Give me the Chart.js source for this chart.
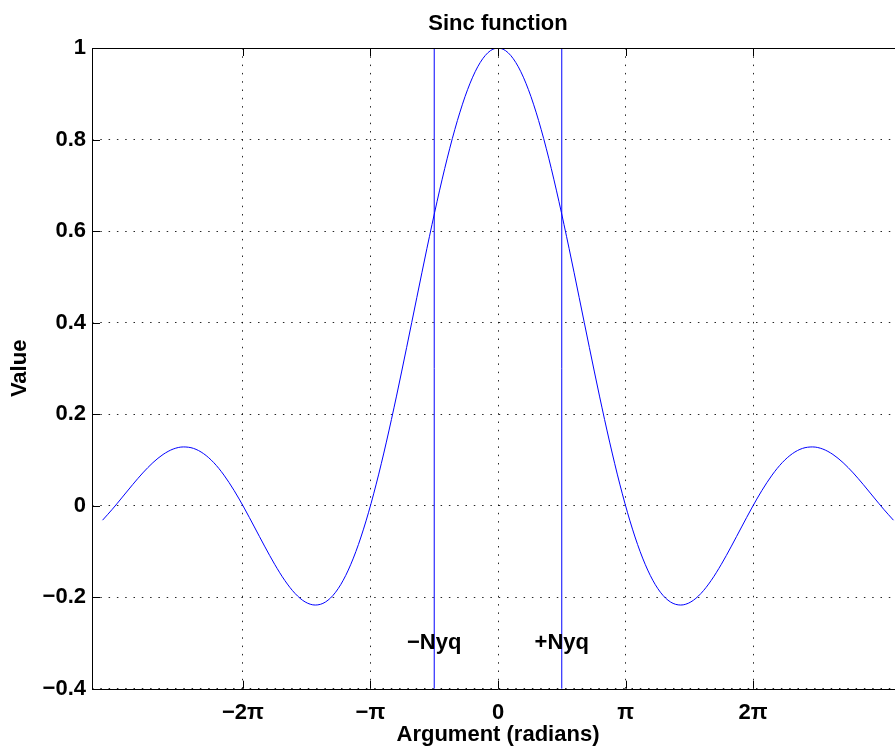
<!DOCTYPE html>
<html>
<head>
<meta charset="utf-8">
<script src="https://cdn.jsdelivr.net/npm/chart.js@4/dist/chart.umd.min.js"></script>
<style>
  html, body { margin: 0; padding: 0; background: #fff; overflow: hidden; width: 895px; height: 750px; }
  canvas { display: block; }
</style>
</head>
<body>
<canvas id="c" width="906" height="750"></canvas>
<script>
// ---- data ----
const xValues = [-9.74,-9.5,-9.25,-9,-8.75,-8.5,-8.25,-8,-7.75,-7.5,-7.25,-7,-6.75,-6.5,-6.25,-6,-5.75,-5.5,-5.25,-5,
  -4.75,-4.5,-4.25,-4,-3.75,-3.5,-3.25,-3,-2.75,-2.5,-2.25,-2,-1.75,-1.5,-1.25,-1,-0.75,-0.5,-0.25,0,
  0.25,0.5,0.75,1,1.25,1.5,1.75,2,2.25,2.5,2.75,3,3.25,3.5,3.75,4,4.25,4.5,4.75,5,
  5.25,5.5,5.75,6,6.25,6.5,6.75,7,7.25,7.5,7.75,8,8.25,8.5,8.75,9,9.25,9.5,9.74];
const yValues = [-0.0318,-0.0079,0.0188,0.0458,0.0714,0.0939,0.1118,0.1237,0.1283,0.1251,0.1135,0.0939,0.0667,0.0331,-0.0053,-0.0466,-0.0884,-0.1283,-0.1636,-0.1918,
  -0.2104,-0.2172,-0.2106,-0.1892,-0.1524,-0.1002,-0.0333,0.0470,0.1388,0.2394,0.3458,0.4546,0.5623,0.6650,0.7592,0.8415,0.9089,0.9589,0.9896,1.0,
  0.9896,0.9589,0.9089,0.8415,0.7592,0.6650,0.5623,0.4546,0.3458,0.2394,0.1388,0.0470,-0.0333,-0.1002,-0.1524,-0.1892,-0.2106,-0.2172,-0.2104,-0.1918,
  -0.1636,-0.1283,-0.0884,-0.0466,-0.0053,0.0331,0.0667,0.0939,0.1135,0.1251,0.1283,0.1237,0.1118,0.0939,0.0714,0.0458,0.0188,-0.0079,-0.0318];

const nyqX = [-1.5708, 1.5708];
const nyqLineY = [-0.4, 1];
const nyqLabels = ['\u2212Nyq', '+Nyq'];
const nyqLabelY = -0.3;

const xRange = [-10, 10];
const yRange = [-0.4, 1];
const xTickValues = [-6.2832, -3.1416, 0, 3.1416, 6.2832];
const xTickLabels = ['\u22122\u03c0', '\u2212\u03c0', '0', '\u03c0', '2\u03c0'];
const yTickValues = [-0.4, -0.2, 0, 0.2, 0.4, 0.6, 0.8, 1];
const yTickLabels = ['\u22120.4', '\u22120.2', '0', '0.2', '0.4', '0.6', '0.8', '1'];

const titleText = 'Sinc function';
const xTitle = 'Argument (radians)';
const yTitle = 'Value';

// ---- chart ----
const FONT = "'Liberation Sans', Arial, Helvetica, sans-serif";
const BLUE = '#0000ff';

const sincData = xValues.map((x, i) => ({ x: x, y: yValues[i] }));
const nyqDatasets = nyqX.map(x => ({
  data: nyqLineY.map(y => ({ x: x, y: y })),
  borderColor: BLUE, borderWidth: 1, pointRadius: 0, tension: 0, clip: false
}));

const framePlugin = {
  id: 'frame',
  afterDatasetsDraw(chart) {
    const ctx = chart.ctx;
    const a = chart.chartArea;
    const xs = chart.scales.x, ys = chart.scales.y;
    ctx.save();
    ctx.strokeStyle = '#000';
    ctx.lineWidth = 1;
    ctx.beginPath();
    ctx.rect(Math.round(a.left) + 0.5, Math.round(a.top) + 0.5, Math.round(a.right - a.left), Math.round(a.bottom - a.top));
    ctx.stroke();
    // inward ticks
    const TL = 8;
    ctx.beginPath();
    xTickValues.forEach(v => {
      const px = Math.round(xs.getPixelForValue(v)) + 0.5;
      ctx.moveTo(px, a.bottom); ctx.lineTo(px, a.bottom - TL);
      ctx.moveTo(px, a.top); ctx.lineTo(px, a.top + TL);
    });
    yTickValues.forEach(v => {
      const py = Math.round(ys.getPixelForValue(v)) + 0.5;
      ctx.moveTo(a.left, py); ctx.lineTo(a.left + TL, py);
      ctx.moveTo(a.right, py); ctx.lineTo(a.right - TL, py);
    });
    ctx.stroke();
    // Nyquist labels
    ctx.fillStyle = '#000';
    ctx.font = 'bold 22px ' + FONT;
    ctx.textAlign = 'center';
    ctx.textBaseline = 'middle';
    nyqX.forEach((x, i) => {
      ctx.fillText(nyqLabels[i], xs.getPixelForValue(x), ys.getPixelForValue(nyqLabelY));
    });
    ctx.restore();
  }
};

new Chart(document.getElementById('c'), {
  type: 'line',
  data: {
    datasets: [
      { data: sincData, borderColor: BLUE, borderWidth: 1, pointRadius: 0, cubicInterpolationMode: 'monotone' },
      ...nyqDatasets
    ]
  },
  options: {
    responsive: false,
    animation: false,
    devicePixelRatio: 1,
    layout: { padding: { left: 0, right: 2, top: 0, bottom: 0 } },
    plugins: {
      legend: { display: false },
      tooltip: { enabled: false },
      title: {
        display: true, text: titleText, color: '#000', fullSize: false,
        font: { family: FONT, size: 22, weight: 'bold' },
        padding: { top: 11, bottom: 10.6 }
      }
    },
    scales: {
      x: {
        type: 'linear', position: 'bottom', min: xRange[0], max: xRange[1],
        afterBuildTicks: s => { s.ticks = xTickValues.map(v => ({ value: v })); },
        afterFit: s => { s.height = 61.3; },
        ticks: {
          color: '#000', padding: 11, maxRotation: 0, autoSkip: false,
          font: { family: FONT, size: 22, weight: 'bold' },
          callback: (v, i) => xTickLabels[i]
        },
        grid: { color: 'rgba(0,0,0,0.85)', lineWidth: 1, drawTicks: false },
        border: { display: false, dash: [1.5, 6.8] },
        title: {
          display: true, text: xTitle, color: '#000',
          font: { family: FONT, size: 22, weight: 'bold' },
          padding: { top: 0, bottom: 1.8 }
        }
      },
      y: {
        type: 'linear', position: 'left', min: yRange[0], max: yRange[1],
        afterBuildTicks: s => { s.ticks = yTickValues.map(v => ({ value: v })); },
        afterFit: s => { s.width = 92; },
        ticks: {
          color: '#000', padding: 6, autoSkip: false,
          font: { family: FONT, size: 22, weight: 'bold' },
          callback: (v, i) => yTickLabels[i]
        },
        grid: { color: 'rgba(0,0,0,0.85)', lineWidth: 1, drawTicks: false },
        border: { display: false, dash: [1.5, 6.8] },
        title: {
          display: true, text: yTitle, color: '#000',
          font: { family: FONT, size: 22, weight: 'bold' },
          padding: { top: 6.8, bottom: 0 }
        }
      }
    }
  },
  plugins: [framePlugin]
});
</script>
</body>
</html>
